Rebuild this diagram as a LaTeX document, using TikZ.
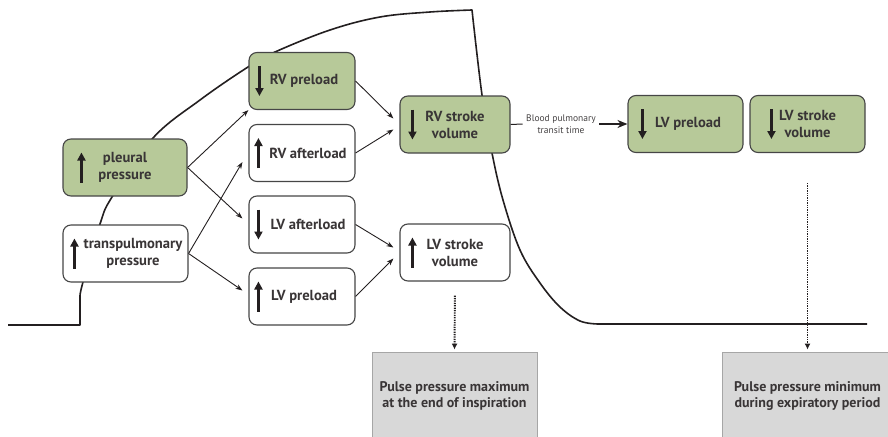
\documentclass[tikz,border=0pt]{standalone}
\usepackage{fontspec}
\setmainfont{PT Sans}
\usetikzlibrary{arrows.meta,calc}
\definecolor{boxgreen}{RGB}{183,201,153}
\definecolor{boxline}{RGB}{70,70,70}
\definecolor{ink}{RGB}{35,31,32}
\definecolor{notegray}{RGB}{216,216,216}
\begin{document}
\begin{tikzpicture}[x=1pt,y=-1pt,
    box/.style={draw=boxline,line width=1.1pt,rounded corners=8pt,minimum height=57pt,
      align=center,text=ink!90,font=\fontsize{14.6}{17}\selectfont\bfseries},
    gbox/.style={box,fill=boxgreen},
    wbox/.style={box,fill=white},
    note/.style={draw=gray!70,line width=0.8pt,fill=notegray,minimum height=88pt,
      align=center,text=ink!90,font=\fontsize{14}{16}\selectfont\bfseries},
    conn/.style={-{Stealth[length=7pt,width=5pt]},line width=0.9pt,draw=ink},
    dots/.style={-{Latex[length=6pt,width=6pt]},dash pattern=on 1.3pt off 1.1pt,line width=1.9pt,draw=ink},
    updown/.style={-{Triangle[length=8pt,width=8pt]},line width=2.6pt,draw=ink}
  ]
  \clip (0,0) rectangle (888,436);
  % pressure curve
  \draw[ink,line width=1.6pt,line join=round] (8,325) -- (80,325) -- (80,296)
    -- plot[smooth,tension=0.6] coordinates {(80,296) (83,282) (100,224) (112,197) (153,138)
      (200,100) (248,67) (275,52) (330,30) (380,17) (430,12) (472,10)}
    -- plot[smooth,tension=0.6] coordinates {(472,10) (482,95) (492,153) (503,200) (520,250)
      (540,283) (560,307) (580,321) (598,324)} -- (867,324);

  \node[gbox,minimum width=124pt] (pleu) at (125,167.5) {pleural\\pressure};
  \node[wbox,minimum width=125pt] (tp) at (125.5,253.5)
    {\hspace*{15pt}transpulmonary\\\hspace*{15pt}pressure};
  \node[gbox,minimum width=106pt] (RVpre) at (302,81) {\hspace*{4pt}RV preload};
  \node[wbox,minimum width=106pt] (RVaft) at (302,153) {\hspace*{12pt}RV afterload};
  \node[wbox,minimum width=106pt] (LVaft) at (302,224.5) {\hspace*{12pt}LV afterload};
  \node[wbox,minimum width=106pt] (LVpre) at (302,296.5) {\hspace*{4pt}LV preload};
  \node[gbox,minimum width=110pt] (RVsv) at (455,124.5) {RV stroke\\volume};
  \node[wbox,minimum width=110pt] (LVsv) at (455,252.5) {LV stroke\\volume};
  \node[gbox,minimum width=115pt] (LVpre2) at (685.5,124) {\hspace*{5pt}LV preload};
  \node[gbox,minimum width=115pt] (LVsv2) at (807.5,124) {LV stroke\\volume};
  \node[note,minimum width=165pt] (ppmax) at (454.5,396)
    {Pulse pressure maximum\\at the end of inspiration};
  \node[note,minimum width=171pt] (ppmin) at (807.5,396)
    {Pulse pressure minimum\\during expiratory period};
  \node[text=ink!85,align=center,font=\fontsize{9.5}{12}\selectfont] (bpt) at (561,124)
    {Blood pulmonary\\transit time};

  % up / down arrows in the boxes
  \foreach \b/\dx/\dir in {pleu/19/-1,tp/12/-1,RVpre/11/1,RVaft/10/-1,LVaft/10/1,
      LVpre/10/-1,RVsv/13/1,LVsv/13/-1,LVpre2/15/1,LVsv2/22/1}
    \draw[updown] ($(\b.west)+(\dx,-15*\dir)$) -- ++(0,30*\dir);

  \draw[conn] (pleu.east) -- (RVpre.south west);
  \draw[conn] (pleu.east) -- ($(LVaft.west)+(-6,-6)$);
  \draw[conn] (tp.east) -- ($(RVaft.west)+(-6,9)$);
  \draw[conn] (tp.east) -- ($(LVpre.west)+(-6,-6)$);
  \draw[conn] (RVpre.east) -- ($(RVsv.west)+(-6,-6)$);
  \draw[conn] (RVaft.east) -- ($(RVsv.west)+(-6,5)$);
  \draw[conn] (LVaft.east) -- ($(LVsv.west)+(-6,-5)$);
  \draw[conn] (LVpre.east) -- ($(LVsv.west)+(-6,6)$);
  \draw[ink,line width=1pt] (RVsv.east) -- (bpt.west);
  \draw[-{Stealth[length=10pt,width=8pt]},line width=1.4pt,ink] (bpt.east) -- (LVpre2.west);
  \draw[dots,shorten <=14pt,shorten >=2pt] (LVsv.south) -- (ppmax.north);
  \draw[dots,shorten <=30pt,shorten >=2pt] (LVsv2.south) -- (ppmin.north);
\end{tikzpicture}
\end{document}
